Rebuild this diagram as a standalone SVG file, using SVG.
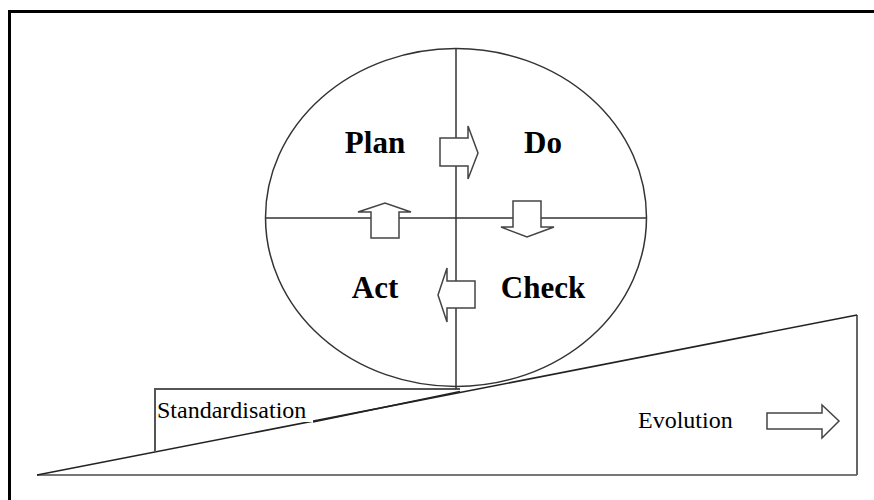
<svg xmlns="http://www.w3.org/2000/svg" width="874" height="500" viewBox="0 0 874 500">
<style>
.ln{fill:none;stroke:#333;stroke-width:1.5}
.ar{fill:#fff;stroke:#444;stroke-width:1.5;stroke-linejoin:miter}
.big{font-family:"Liberation Serif","Times New Roman",serif;font-weight:bold;font-size:31px;fill:#000;text-anchor:middle}
.sm{font-family:"Liberation Serif","Times New Roman",serif;font-size:24px;fill:#000}
</style>
<rect x="0" y="0" width="874" height="500" fill="#fff"/>
<g id="frame">
<path d="M9.5,500 V11.5 H874" fill="none" stroke="#000" stroke-width="3"/>
</g>
<g id="wedge">
<polygon points="37,475 857,475 857,315" fill="#fff" stroke="none"/>
<line x1="37" y1="475" x2="857" y2="475" stroke="#777" stroke-width="2"/>
<line x1="857" y1="475" x2="857" y2="315" stroke="#666" stroke-width="2"/>
<line x1="37" y1="475" x2="857" y2="315" stroke="#222" stroke-width="1.6"/>
</g>
<g id="standardisation">
<path d="M155,452 V389 H460" fill="none" stroke="#555" stroke-width="2"/>
<line x1="313" y1="422" x2="460" y2="391.5" stroke="#222" stroke-width="1.4"/>
<rect x="156" y="399" width="157" height="23" fill="#fff"/>
<text class="sm" x="157" y="418">Standardisation</text>
</g>
<g id="cycle">
<ellipse cx="456" cy="217.5" rx="190.5" ry="169" fill="#fff" stroke="#333" stroke-width="1.5"/>
<line class="ln" x1="266" y1="218" x2="646" y2="218"/>
<line class="ln" x1="456" y1="49" x2="456" y2="389"/>
</g>
<g id="plan"><text class="big" x="375" y="153">Plan</text></g>
<g id="do"><text class="big" x="543" y="153">Do</text></g>
<g id="act"><text class="big" x="375" y="298">Act</text></g>
<g id="check"><text class="big" x="543" y="298">Check</text></g>
<g id="connectors">
<polygon class="ar" points="440,138 468,138 468,126 478,153 468,179 468,166 440,166"/>
<polygon class="ar" points="513,201 541,201 541,227 554,227 527,237 501,227 513,227"/>
<polygon class="ar" points="371,238 371,212 358,212 385,203 411,212 399,212 399,238"/>
<polygon class="ar" points="475,281 447,281 447,268 438,295 447,322 447,308 475,308"/>
</g>
<g id="evolution">
<text class="sm" x="638" y="428">Evolution</text>
<polygon class="ar" points="767,413 822,413 822,405 839,421 822,438 822,429 767,429"/>
</g>
</svg>
